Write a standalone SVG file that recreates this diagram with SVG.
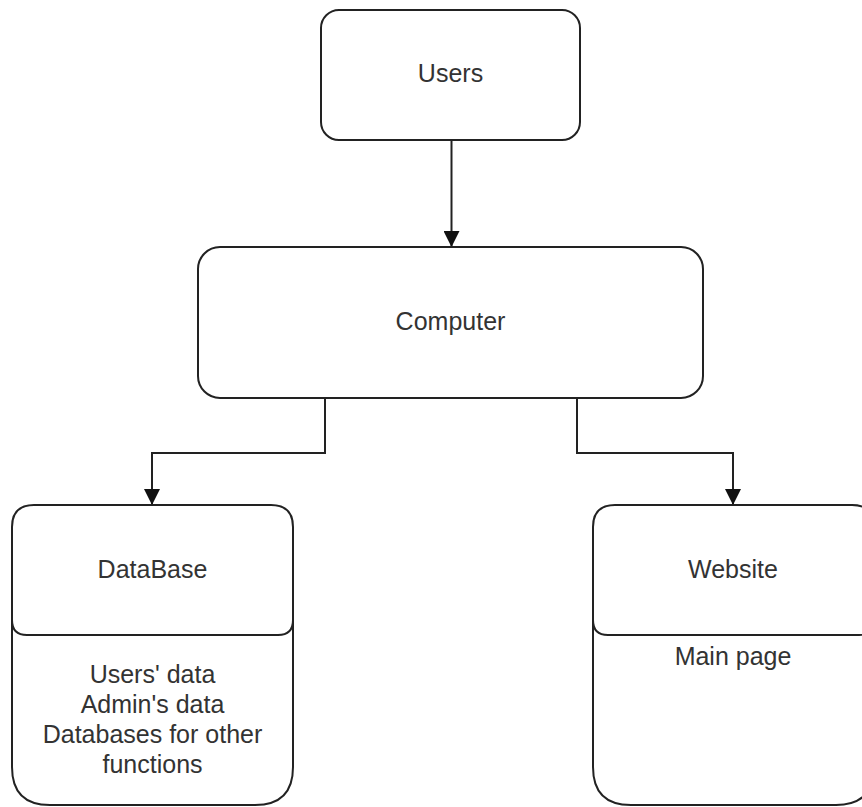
<svg xmlns="http://www.w3.org/2000/svg" width="862" height="807" viewBox="0 0 862 807">
<style>
.box{fill:#fff;stroke:#222;stroke-width:2}
.div{fill:none;stroke:#222;stroke-width:2}
.lbl{font-family:"Liberation Sans",Arial,sans-serif;font-size:25px;fill:#333;text-anchor:middle}
.edge{fill:none;stroke:#222;stroke-width:2}
</style>
<defs>
<marker id="arr" markerWidth="16" markerHeight="16" viewBox="0 0 16 16" refX="16" refY="8" orient="auto" markerUnits="userSpaceOnUse">
<path d="M0,0 L16,8 L0,16 Z" fill="#111"/>
</marker>
</defs>
<rect width="862" height="807" fill="#fff"/>
<g id="connectors">
<path class="edge" d="M451.5,140 V247" marker-end="url(#arr)"/>
<path class="edge" d="M325,398 V453 H152 V505" marker-end="url(#arr)"/>
<path class="edge" d="M577,398 V453 H733 V505" marker-end="url(#arr)"/>
</g>
<g id="users">
<rect class="box" x="321" y="10" width="259" height="130" rx="18"/>
<text class="lbl" x="450.5" y="82">Users</text>
</g>
<g id="computer">
<rect class="box" x="198" y="247" width="505" height="151" rx="22"/>
<text class="lbl" x="450.5" y="330">Computer</text>
</g>
<g id="database">
<path class="box" d="M12,527 Q12,505 34,505 H271 Q293,505 293,527 V767 Q293,805 255,805 H50 Q12,805 12,767 Z"/>
<path class="div" d="M12,620 Q12,635 27,635 H278 Q293,635 293,620"/>
<text class="lbl" x="152.5" y="578">DataBase</text>
<text class="lbl" x="152.5" y="683">Users' data</text>
<text class="lbl" x="152.5" y="713">Admin's data</text>
<text class="lbl" x="152.5" y="743">Databases for other</text>
<text class="lbl" x="152.5" y="773">functions</text>
</g>
<g id="website">
<path class="box" d="M593,527 Q593,505 615,505 H852 Q874,505 874,527 V767 Q874,805 836,805 H631 Q593,805 593,767 Z"/>
<path class="div" d="M593,620 Q593,635 608,635 H859 Q874,635 874,620"/>
<text class="lbl" x="733" y="578">Website</text>
<text class="lbl" x="733" y="665">Main page</text>
</g>
</svg>
